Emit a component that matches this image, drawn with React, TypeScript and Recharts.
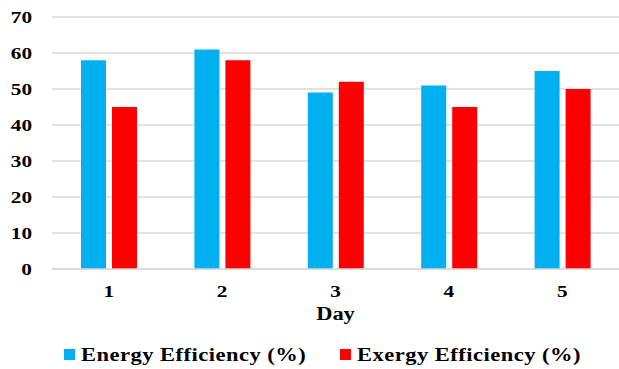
import React from "react";
import {
  BarChart,
  Bar,
  XAxis,
  YAxis,
  CartesianGrid,
  Legend,
} from "recharts";

const days = ["1", "2", "3", "4", "5"];
const energyEfficiency = [58, 61, 49, 51, 55];
const exergyEfficiency = [45, 58, 52, 45, 50];
const yTicks = [0, 10, 20, 30, 40, 50, 60, 70];

const BLUE = "#00B0F0";
const RED = "#FF0000";
const FONT = '"Liberation Serif", "Times New Roman", serif';
// text is drawn slightly widened horizontally
const STRETCH = 1.25;

const data = days.map((day, i) => ({
  day,
  energy: energyEfficiency[i],
  exergy: exergyEfficiency[i],
}));

const textProps = {
  fontFamily: FONT,
  fontWeight: 700,
  fill: "#000",
};

function YTick({ x, y, payload }: any) {
  return (
    <text
      {...textProps}
      fontSize={17}
      textAnchor="end"
      dominantBaseline="central"
      transform={`translate(${x} ${y}) scale(${STRETCH} 1)`}
    >
      {payload.value}
    </text>
  );
}

function XTick({ x, y, payload }: any) {
  return (
    <text
      {...textProps}
      fontSize={17}
      textAnchor="middle"
      transform={`translate(${x} ${y + 12}) scale(${STRETCH} 1)`}
    >
      {payload.value}
    </text>
  );
}

function AxisTitle({ viewBox }: any) {
  const cx = viewBox.x + viewBox.width / 2;
  return (
    <text
      {...textProps}
      fontSize={18}
      textAnchor="middle"
      transform={`translate(${cx} ${viewBox.y + 51}) scale(${STRETCH} 1)`}
    >
      Day
    </text>
  );
}

function LegendContent({ payload }: any) {
  const items = payload || [];
  const starts = [64, 340];
  return (
    <svg width={619} height={30} style={{ display: "block" }}>
      {items.map((entry: any, i: number) => (
        <g key={entry.value}>
          <rect x={starts[i]} y={10} width={11} height={11} fill={entry.color} />
          <text
            {...textProps}
            fontSize={18}
            letterSpacing={0.4}
            transform={`translate(${starts[i] + 17} ${22}) scale(${STRETCH} 1)`}
          >
            {entry.value}
          </text>
        </g>
      ))}
    </svg>
  );
}

export default function App() {
  return (
    <div style={{ position: "absolute", top: 0, left: 0, background: "#fff" }}>
      <BarChart
        width={619}
        height={369}
        data={data}
        margin={{ top: 17, right: 0, left: 0, bottom: 0 }}
        barSize={25}
        barGap={6}
      >
        <CartesianGrid vertical={false} stroke="#d9d9d9" strokeWidth={1.5} />
        <XAxis
          dataKey="day"
          height={70}
          axisLine={{ stroke: "#d9d9d9", strokeWidth: 1.5 }}
          tickLine={false}
          tickSize={0}
          tickMargin={16}
          tick={<XTick />}
          label={<AxisTitle />}
        />
        <YAxis
          width={52}
          domain={[0, 70]}
          ticks={yTicks}
          axisLine={false}
          tickLine={false}
          tickSize={0}
          tickMargin={20}
          tick={<YTick />}
        />
        <Legend
          verticalAlign="bottom"
          height={30}
          wrapperStyle={{ left: 0, width: 619 }}
          content={<LegendContent />}
        />
        <Bar
          dataKey="energy"
          name="Energy Efficiency (%)"
          fill={BLUE}
          isAnimationActive={false}
        />
        <Bar
          dataKey="exergy"
          name="Exergy Efficiency (%)"
          fill={RED}
          isAnimationActive={false}
        />
      </BarChart>
    </div>
  );
}
